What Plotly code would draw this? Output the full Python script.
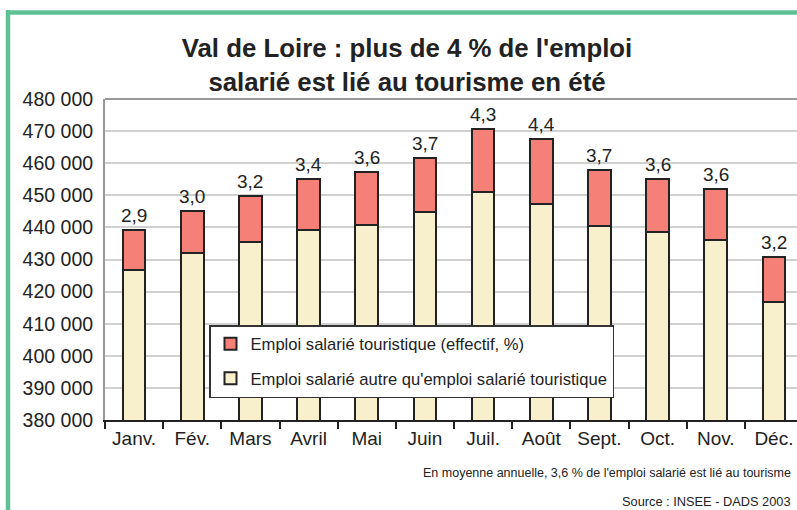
import plotly.graph_objects as go

months = ["Janv.", "Fév.", "Mars", "Avril", "Mai", "Juin", "Juil.", "Août", "Sept.", "Oct.", "Nov.", "Déc."]
emploi_autre = [426800, 432100, 435400, 439300, 440600, 444700, 451100, 447200, 440500, 438700, 436100, 416900]
emploi_touristique = [12500, 13100, 14500, 15800, 16600, 17000, 19700, 20400, 17300, 16500, 15800, 13900]
part_pct = ["2,9", "3,0", "3,2", "3,4", "3,6", "3,7", "4,3", "4,4", "3,7", "3,6", "3,6", "3,2"]
y_ticks = [380000, 390000, 400000, 410000, 420000, 430000, 440000, 450000, 460000, 470000, 480000]

FONT = "Liberation Sans, Arial, Helvetica, sans-serif"
W, H = 797, 510
L, R, T, B = 105, 0, 99, 90
PW, PH = W - L - R, H - T - B

def px(x):
    return (x - L) / PW

def py(y):
    return (H - B - y) / PH

fig = go.Figure()
fig.add_trace(go.Bar(
    x=months, y=emploi_autre, name="Emploi salarié autre qu'emploi salarié touristique",
    marker=dict(color="#F8F0CC", line=dict(color="#222222", width=2)),
    width=0.39, legendrank=2,
))
fig.add_trace(go.Bar(
    x=months, y=emploi_touristique, name="Emploi salarié touristique (effectif, %)",
    marker=dict(color="#F48078", line=dict(color="#222222", width=2)),
    width=0.39, legendrank=1, legendgroup="t",
))

annotations = []
for m, a, t, p in zip(months, emploi_autre, emploi_touristique, part_pct):
    annotations.append(dict(x=m, y=a + t, text=p, showarrow=False, yanchor="bottom",
                            yshift=2, font=dict(family=FONT, size=19, color="#222222")))

annotations.append(dict(xref="paper", yref="paper", x=px(793), y=py(473), xanchor="right", yanchor="middle",
                        text="En moyenne annuelle, 3,6 % de l'emploi salarié est lié au tourisme",
                        showarrow=False, font=dict(family=FONT, size=12.5, color="#222222")))
annotations.append(dict(xref="paper", yref="paper", x=px(793), y=py(501), xanchor="right", yanchor="middle",
                        text="Source : INSEE - DADS 2003",
                        showarrow=False, font=dict(family=FONT, size=12.8, color="#222222")))

shapes = [
    dict(type="line", xref="paper", yref="paper", x0=px(8), x1=px(8), y0=py(10), y1=py(515),
         line=dict(color="#5EC294", width=4.5)),
    dict(type="line", xref="paper", yref="paper", x0=px(6), x1=px(805), y0=py(12.5), y1=py(12.5),
         line=dict(color="#5EC294", width=4.5)),
    dict(type="line", xref="paper", yref="paper", x0=0, x1=1.02, y0=1, y1=1,
         line=dict(color="#999999", width=2), layer="below"),
]

fig.update_layout(
    width=W, height=H,
    margin=dict(l=L, r=R, t=T, b=B),
    paper_bgcolor="white", plot_bgcolor="white",
    barmode="stack",
    separators=", ",
    font=dict(family=FONT, color="#222222"),
    title=dict(text="<b>Val de Loire : plus de 4 % de l'emploi<br>salarié est lié au tourisme en été</b>",
               x=407 / W, xanchor="center", y=1 - 57 / H, yanchor="top",
               font=dict(family=FONT, size=25.8, color="#222222")),
    xaxis=dict(type="category", range=[-0.5, 11.5 - 6 / 58.2], showgrid=False,
               showline=True, linecolor="#222222", linewidth=2,
               ticks="outside", tickson="boundaries", ticklen=7, tickwidth=2, tickcolor="#222222",
               tickfont=dict(family=FONT, size=19, color="#222222")),
    yaxis=dict(range=[380000, 480000], tickvals=y_ticks, tickformat=",d",
               showgrid=True, gridcolor="#D0D0D0", gridwidth=1.5,
               showline=True, linecolor="#999999", linewidth=2,
               ticks="", ticklabelstandoff=6, zeroline=False,
               tickfont=dict(family=FONT, size=19.5, color="#222222")),
    legend=dict(x=px(209), y=py(325), xanchor="left", yanchor="top",
                bgcolor="white", bordercolor="#333333", borderwidth=1.5,
                traceorder="grouped", tracegroupgap=10,
                font=dict(family=FONT, size=16.6, color="#222222")),
    annotations=annotations,
    shapes=shapes,
)

fig.write_html("out.html", config={"displayModeBar": False},
               post_script="document.body.style.margin='0';document.body.style.overflow='hidden';")
